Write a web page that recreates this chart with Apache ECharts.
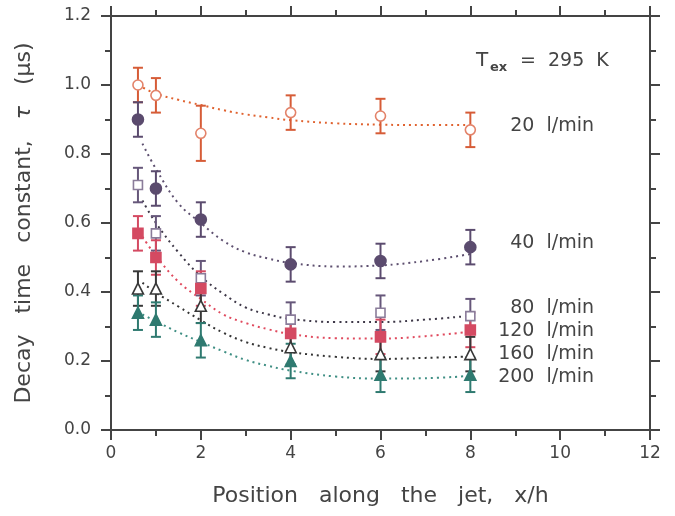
<!DOCTYPE html>
<html><head><meta charset="utf-8">
<script src="https://cdn.jsdelivr.net/npm/echarts@6/dist/echarts.min.js"></script>
<style>html,body{margin:0;padding:0;background:#fff}#c{width:675px;height:516px}</style>
</head><body><div id="c"></div>
<script>
// ---- data ----
const xPos = [0.6, 1, 2, 4, 6, 8];
const tau20  = [1.00, 0.97, 0.86, 0.92, 0.91, 0.87];
const err20  = [0.05, 0.05, 0.08, 0.05, 0.05, 0.05];
const tau40  = [0.90, 0.70, 0.61, 0.48, 0.49, 0.53];
const err40  = [0.05, 0.05, 0.05, 0.05, 0.05, 0.05];
const tau80  = [0.71, 0.57, 0.44, 0.32, 0.34, 0.33];
const err80  = [0.05, 0.05, 0.05, 0.05, 0.05, 0.05];
const tau120 = [0.57, 0.50, 0.41, 0.28, 0.27, 0.29];
const err120 = [0.05, 0.05, 0.05, 0.05, 0.05, 0.05];
const tau160 = [0.41, 0.41, 0.36, 0.24, 0.22, 0.22];
const err160 = [0.05, 0.05, 0.05, 0.05, 0.05, 0.05];
const tau200 = [0.34, 0.32, 0.26, 0.20, 0.16, 0.16];
const err200 = [0.05, 0.05, 0.05, 0.05, 0.05, 0.05];

// fitted (dotted) curves
const fitX20 = [0.6, 1, 1.5, 2, 2.5, 3, 3.5, 4, 5, 6, 7, 8];
const fit20  = [1.00, 0.975, 0.957, 0.942, 0.927, 0.915, 0.906, 0.898, 0.889, 0.885, 0.884, 0.884];
const fitX   = [0.7, 1, 1.5, 2, 2.5, 3, 3.5, 4, 5, 6, 7, 8];
const fit40  = [0.83, 0.757, 0.657, 0.600, 0.548, 0.515, 0.497, 0.484, 0.474, 0.477, 0.490, 0.510];
const fit80  = [0.665, 0.600, 0.515, 0.445, 0.395, 0.355, 0.335, 0.322, 0.313, 0.313, 0.320, 0.331];
const fit120 = [0.56, 0.505, 0.430, 0.380, 0.335, 0.310, 0.292, 0.278, 0.266, 0.265, 0.272, 0.285];
const fit160 = [0.427, 0.398, 0.358, 0.318, 0.282, 0.255, 0.238, 0.226, 0.212, 0.206, 0.209, 0.213];
const fit200 = [0.335, 0.315, 0.283, 0.255, 0.228, 0.203, 0.186, 0.172, 0.155, 0.149, 0.150, 0.157];

const seriesNames = ['20 l/min', '40 l/min', '80 l/min', '120 l/min', '160 l/min', '200 l/min'];
const xTicks = [0, 2, 4, 6, 8, 10, 12];
const yTicks = [0.0, 0.2, 0.4, 0.6, 0.8, 1.0, 1.2];

// ---- styling ----
const FONT = 'DejaVu Sans';
const AX = '#444444';
const groups = [
  {tau: tau20,  err: err20,  fx: fitX20, fy: fit20,  bar: '#d65c37', line: '#e0622f', sym: 'circle', size: 10, fill: '#ffffff', stroke: '#e3836a'},
  {tau: tau40,  err: err40,  fx: fitX,   fy: fit40,  bar: '#5b4b6e', line: '#5e5070', sym: 'circle', size: 11, fill: '#5b4b6e', stroke: '#5b4b6e'},
  {tau: tau80,  err: err80,  fx: fitX,   fy: fit80,  bar: '#66577a', line: '#3e3848', sym: 'rect',   size: 9,  fill: '#ffffff', stroke: '#8a7c9a'},
  {tau: tau120, err: err120, fx: fitX,   fy: fit120, bar: '#d44a62', line: '#e04a5e', sym: 'rect',   size: 10, fill: '#d44a62', stroke: '#d44a62'},
  {tau: tau160, err: err160, fx: fitX,   fy: fit160, bar: '#383838', line: '#333333', sym: 'triangle', size: 11, fill: '#ffffff', stroke: '#383838'},
  {tau: tau200, err: err200, fx: fitX,   fy: fit200, bar: '#2f7a70', line: '#3f8f84', sym: 'triangle', size: 11, fill: '#2f7a70', stroke: '#2f7a70'}
];

const series = [];
groups.forEach((g, k) => {
  series.push({
    name: seriesNames[k] + ' fit', type: 'line', smooth: 0.4, showSymbol: false, z: 1,
    data: g.fx.map((x, i) => [x, g.fy[i]]),
    lineStyle: {color: g.line, width: 2, type: [2, 4]}, silent: true
  });
});
groups.forEach((g, k) => {
  series.push({
    name: seriesNames[k] + ' err', type: 'custom', z: 2, silent: true,
    encode: {x: 0, y: [1, 2]},
    data: xPos.map((x, i) => [x, g.tau[i] - g.err[i], g.tau[i] + g.err[i]]),
    renderItem: function (params, api) {
      const x = api.value(0);
      const lo = api.coord([x, api.value(1)]);
      const hi = api.coord([x, api.value(2)]);
      const w = 5;
      const st = {stroke: g.bar, lineWidth: 2};
      return {type: 'group', children: [
        {type: 'line', shape: {x1: hi[0], y1: hi[1], x2: lo[0], y2: lo[1]}, style: st},
        {type: 'line', shape: {x1: hi[0] - w, y1: hi[1], x2: hi[0] + w, y2: hi[1]}, style: st},
        {type: 'line', shape: {x1: lo[0] - w, y1: lo[1], x2: lo[0] + w, y2: lo[1]}, style: st}
      ]};
    }
  });
});
groups.forEach((g, k) => {
  series.push({
    name: seriesNames[k], type: 'scatter', z: 3, symbol: g.sym, symbolSize: g.size,
    data: xPos.map((x, i) => [x, g.tau[i]]),
    itemStyle: {color: g.fill, borderColor: g.stroke, borderWidth: 1.6, opacity: 1}
  });
});

function axisCommon(extra) {
  return Object.assign({
    axisLine: {show: true, onZero: false, lineStyle: {color: AX, width: 2}},
    axisTick: {show: true, inside: false, length: 10, lineStyle: {color: AX, width: 2}},
    minorTick: {show: true, splitNumber: 2, length: 6, lineStyle: {color: AX, width: 2}},
    splitLine: {show: false},
    minorSplitLine: {show: false}
  }, extra);
}

const option = {
  animation: false,
  backgroundColor: '#ffffff',
  grid: {left: 111, right: 25, top: 16, bottom: 86, containLabel: false},
  xAxis: [
    axisCommon({type: 'value', position: 'bottom', min: xTicks[0], max: xTicks[xTicks.length - 1], interval: 2,
      axisLabel: {color: AX, fontSize: 17, fontFamily: FONT, margin: 15},
      name: 'Position   along   the   jet,   x/h', nameLocation: 'middle', nameGap: 55,
      nameTextStyle: {color: AX, fontSize: 22, fontFamily: FONT}}),
    axisCommon({type: 'value', position: 'top', min: xTicks[0], max: xTicks[xTicks.length - 1], interval: 2,
      axisLabel: {show: false}})
  ],
  yAxis: [
    axisCommon({type: 'value', position: 'left', min: yTicks[0], max: yTicks[yTicks.length - 1], interval: 0.2,
      axisLabel: {color: AX, fontSize: 17, fontFamily: FONT, margin: 20, formatter: v => v.toFixed(1)},
      name: 'Decay   time   constant,   {i|τ}   (μs)', nameLocation: 'middle', nameGap: 76,
      nameTextStyle: {color: AX, fontSize: 22, fontFamily: FONT,
        rich: {i: {fontStyle: 'italic', fontSize: 22, fontFamily: FONT, color: AX}}}}),
    axisCommon({type: 'value', position: 'right', min: yTicks[0], max: yTicks[yTicks.length - 1], interval: 0.2,
      axisLabel: {show: false}})
  ],
  series: series,
  graphic: [
    {type: 'text', x: 476, y: 61, style: {text: 'T', fontSize: 20, fontFamily: FONT, fill: AX, textAlign: 'left', textVerticalAlign: 'middle', align: 'left', verticalAlign: 'middle'}},
    {type: 'text', x: 490, y: 68, style: {text: 'ex', fontSize: 13, fontWeight: 'bold', fontFamily: FONT, fill: AX, textAlign: 'left', textVerticalAlign: 'middle', align: 'left', verticalAlign: 'middle'}},
    {type: 'text', x: 520, y: 61, style: {text: '=  295  K', fontSize: 19, fontFamily: FONT, fill: AX, textAlign: 'left', textVerticalAlign: 'middle', align: 'left', verticalAlign: 'middle'}}
  ].concat([126, 243, 308, 331, 354, 377].map((yy, k) => ({
    type: 'text', x: 594, y: yy,
    style: {text: seriesNames[k].replace(' ', '  '), fontSize: 19, fontFamily: FONT, fill: AX,
      textAlign: 'right', textVerticalAlign: 'middle', align: 'right', verticalAlign: 'middle'}
  })))
};

const chart = echarts.init(document.getElementById('c'), null, {renderer: 'canvas'});
chart.setOption(option);
</script></body></html>
